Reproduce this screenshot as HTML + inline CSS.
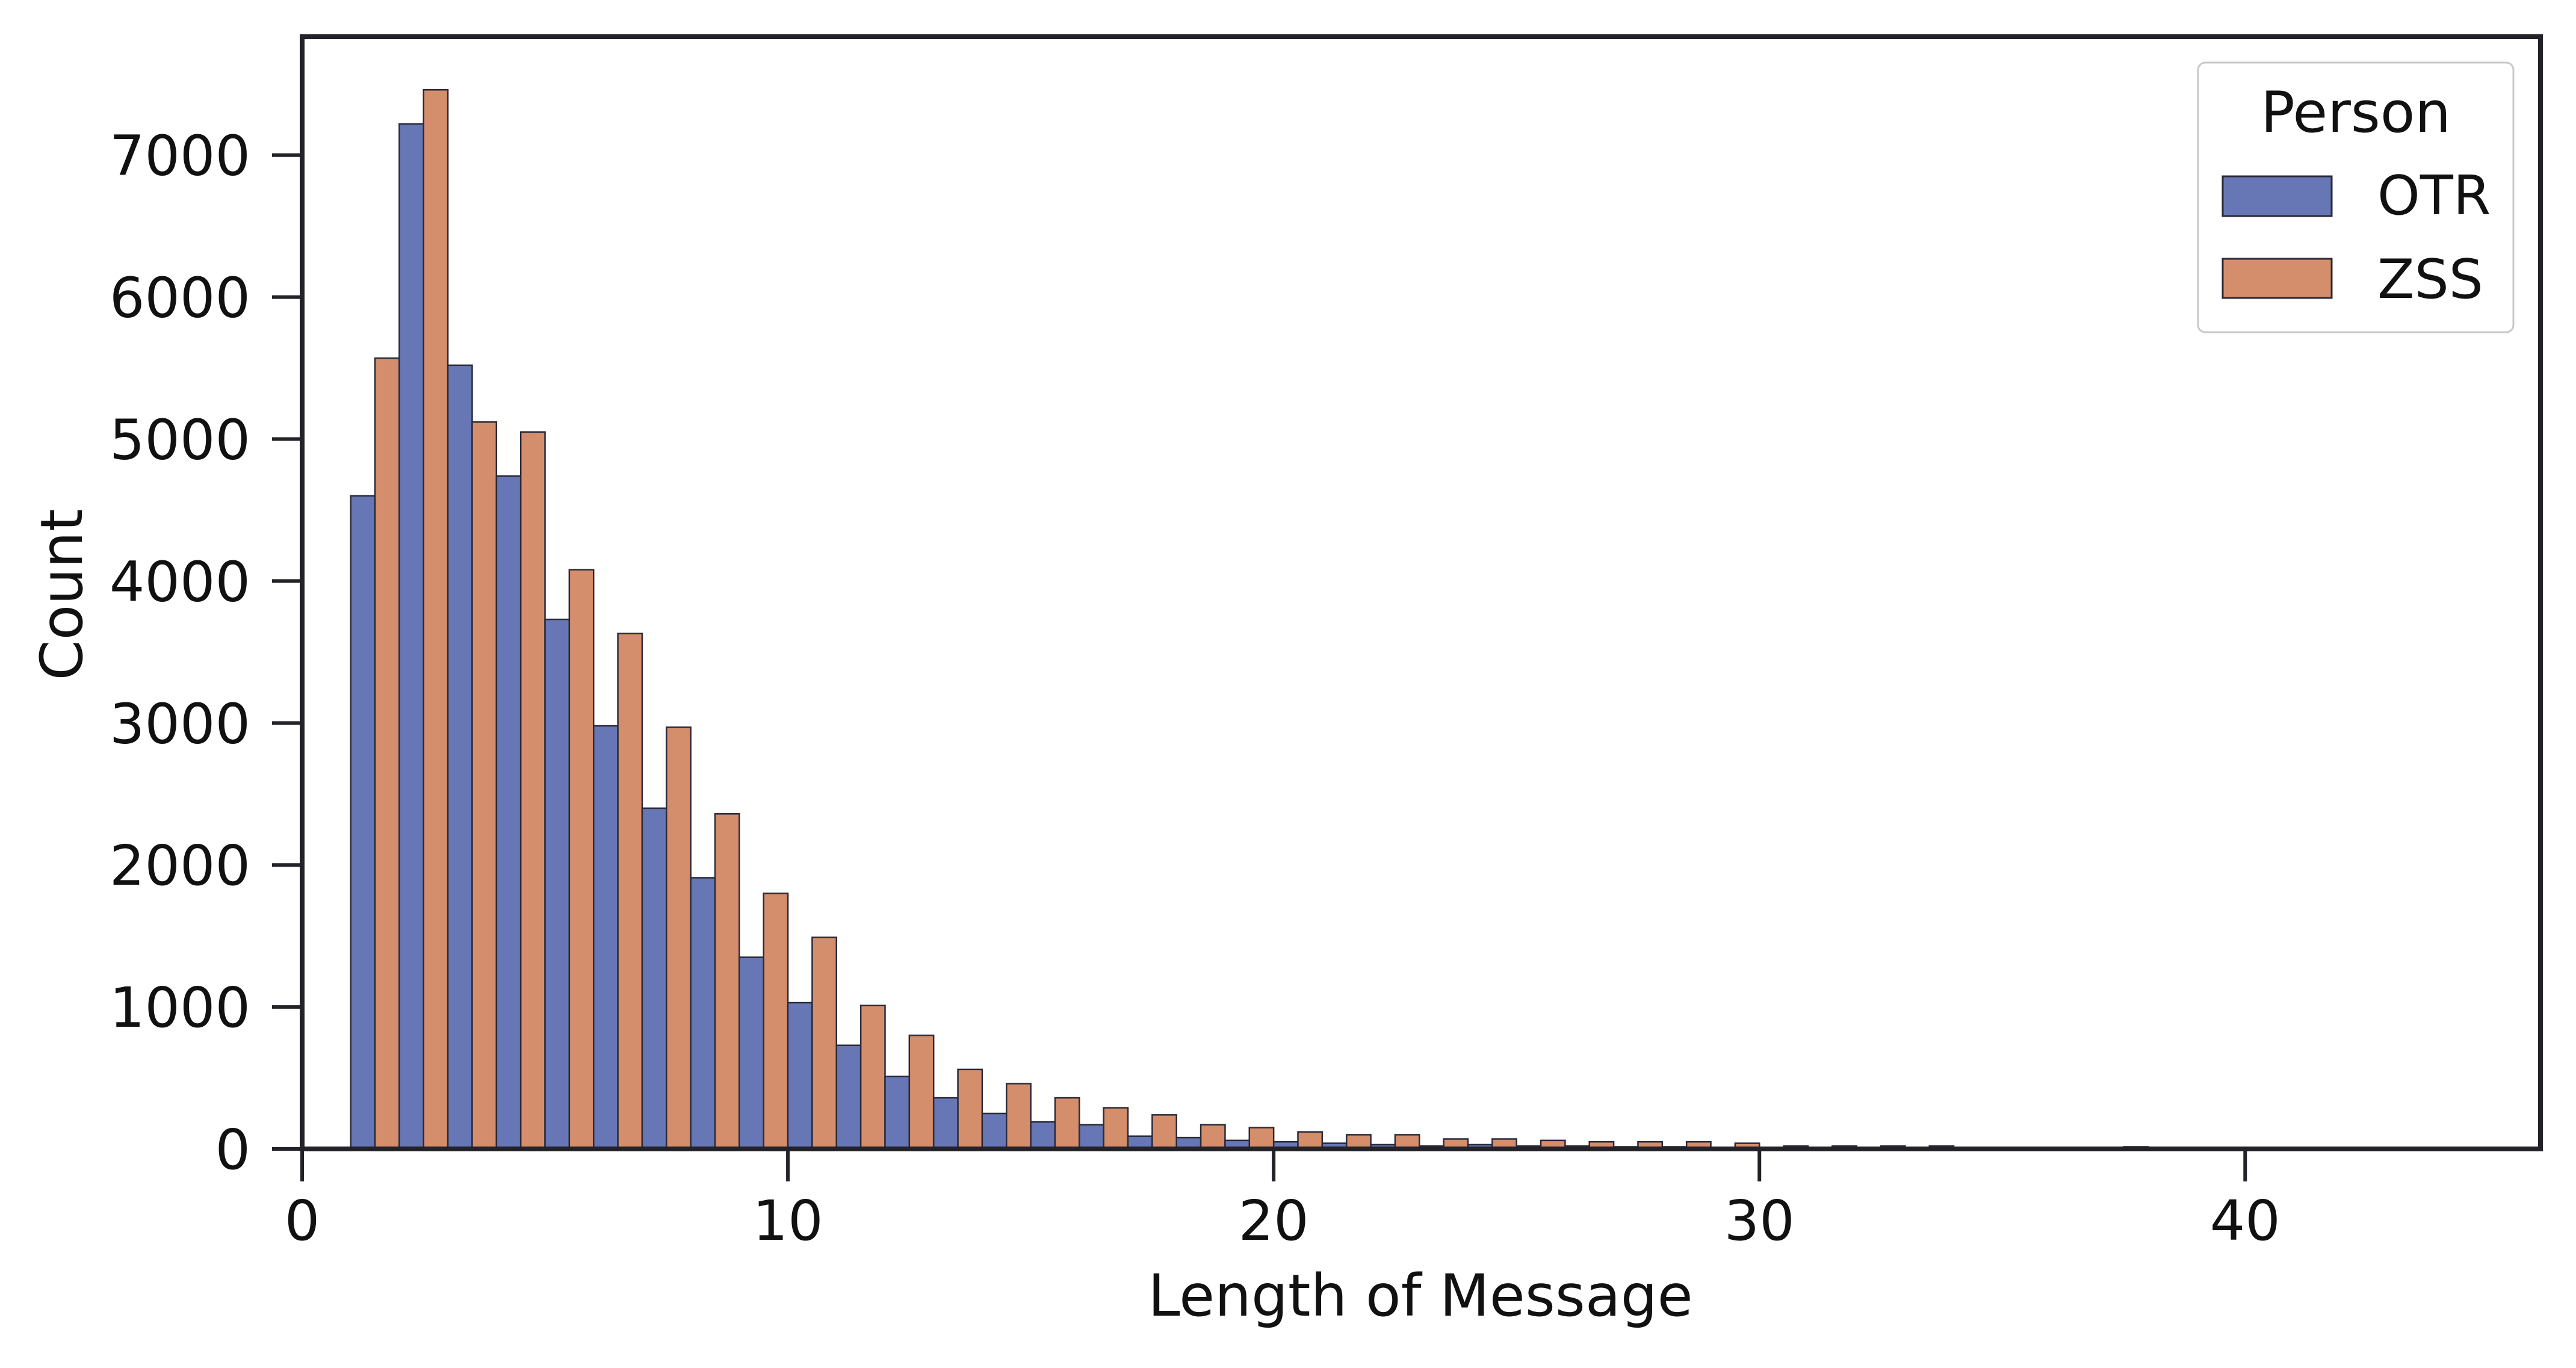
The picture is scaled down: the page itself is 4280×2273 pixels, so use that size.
<!DOCTYPE html>
<html><head><meta charset="utf-8"><style>
html,body{margin:0;padding:0;background:#fff}
svg text{font-family:"DejaVu Sans","Liberation Sans",sans-serif;fill:#111}
</style></head><body>
<svg id="chart" width="4280" height="2268" viewBox="0 0 4280 2268" xmlns="http://www.w3.org/2000/svg">
<rect width="4280" height="2268" fill="#fff"/>
<g id="bars"></g>
<g id="axes"></g>
<g>
<rect x="3652" y="104" width="524" height="448" rx="12" fill="#fff" stroke="#c8c8c8" stroke-width="3"/>
<text x="3914" y="219" font-size="94" text-anchor="middle">Person</text>
<rect x="3693" y="293" width="181" height="66" fill="#6777b5" stroke="#2a2a3a" stroke-width="3"/>
<text x="3950" y="356" font-size="90">OTR</text>
<rect x="3693" y="430" width="181" height="65" fill="#d58e6b" stroke="#2a2a3a" stroke-width="3"/>
<text x="3950" y="495" font-size="90">ZSS</text>
</g>
<text x="2360" y="2186" font-size="96" text-anchor="middle">Length of Message</text>
<text transform="translate(136,988) rotate(-90)" font-size="96" text-anchor="middle">Count</text>
</svg>
<script>
const bins = [1,2,3,4,5,6,7,8,9,10,11,12,13,14,15,16,17,18,19,20,21,22,23,24,25,26,27,28,29,30,31,32,33,34,35,36,37,38,39,40,41,42,43,44,45];
const otr = [4600,7220,5520,4740,3730,2980,2400,1910,1350,1030,730,510,360,250,190,170,90,80,60,50,40,30,20,30,20,20,15,15,10,10,10,10,10,5,5,5,10,5,5,5,5,5,3,3,3];
const zss = [5570,7460,5120,5050,4080,3630,2970,2360,1800,1490,1010,800,560,460,360,290,240,170,150,120,100,100,70,70,60,50,50,50,40,20,20,20,20,8,8,8,15,8,5,5,5,5,3,3,3];
const xTicks = [0,10,20,30,40];
const yTicks = [0,1000,2000,3000,4000,5000,6000,7000];

const X0=502, X1=4221, Y0=1909, Y1=61;
const xMin=0, xMax=46.08, yMin=0, yMax=7834;
const xs = v => X0 + (v-xMin)/(xMax-xMin)*(X1-X0);
const ys = v => Y0 - (v-yMin)/(yMax-yMin)*(Y0-Y1);
const NS="http://www.w3.org/2000/svg";
const barsG=document.getElementById('bars');
function bar(x0,x1,v,fill,name){
  const r=document.createElementNS(NS,'rect');
  r.setAttribute('x',xs(x0));r.setAttribute('width',xs(x1)-xs(x0));
  r.setAttribute('y',ys(v));r.setAttribute('height',Y0-ys(v));
  r.setAttribute('fill',fill);r.setAttribute('stroke','#2a2a3a');r.setAttribute('stroke-width','2.5');
  
  
  barsG.appendChild(r);
}
bins.forEach((b,i)=>{
  bar(b,b+0.5,otr[i],'#6777b5','bar-otr-'+b);
  bar(b+0.5,b+1,zss[i],'#d58e6b','bar-zss-'+b);
});
const ax=document.getElementById('axes');
function el(tag,attrs,name,txt){
  const e=document.createElementNS(NS,tag);
  for(const k in attrs)e.setAttribute(k,attrs[k]);
  
  
  if(txt!==undefined)e.textContent=txt;
  ax.appendChild(e);return e;
}
el('rect',{x:X0,y:Y1,width:X1-X0,height:Y0-Y1,fill:'none',stroke:'#222228','stroke-width':8},'plot-frame');
xTicks.forEach(t=>{
  el('line',{x1:xs(t),x2:xs(t),y1:Y0,y2:Y0+54,stroke:'#222228','stroke-width':6},'x-tick-'+t);
  el('text',{x:xs(t),y:2060,'font-size':92,'text-anchor':'middle'},'x-tick-label-'+t,String(t));
});
yTicks.forEach(t=>{
  el('line',{x1:X0-50,x2:X0,y1:ys(t),y2:ys(t),stroke:'#222228','stroke-width':6},'y-tick-'+t);
  el('text',{x:416,y:ys(t)+33,'font-size':92,'text-anchor':'end'},'y-tick-label-'+t,String(t));
});
</script>
</body></html>
